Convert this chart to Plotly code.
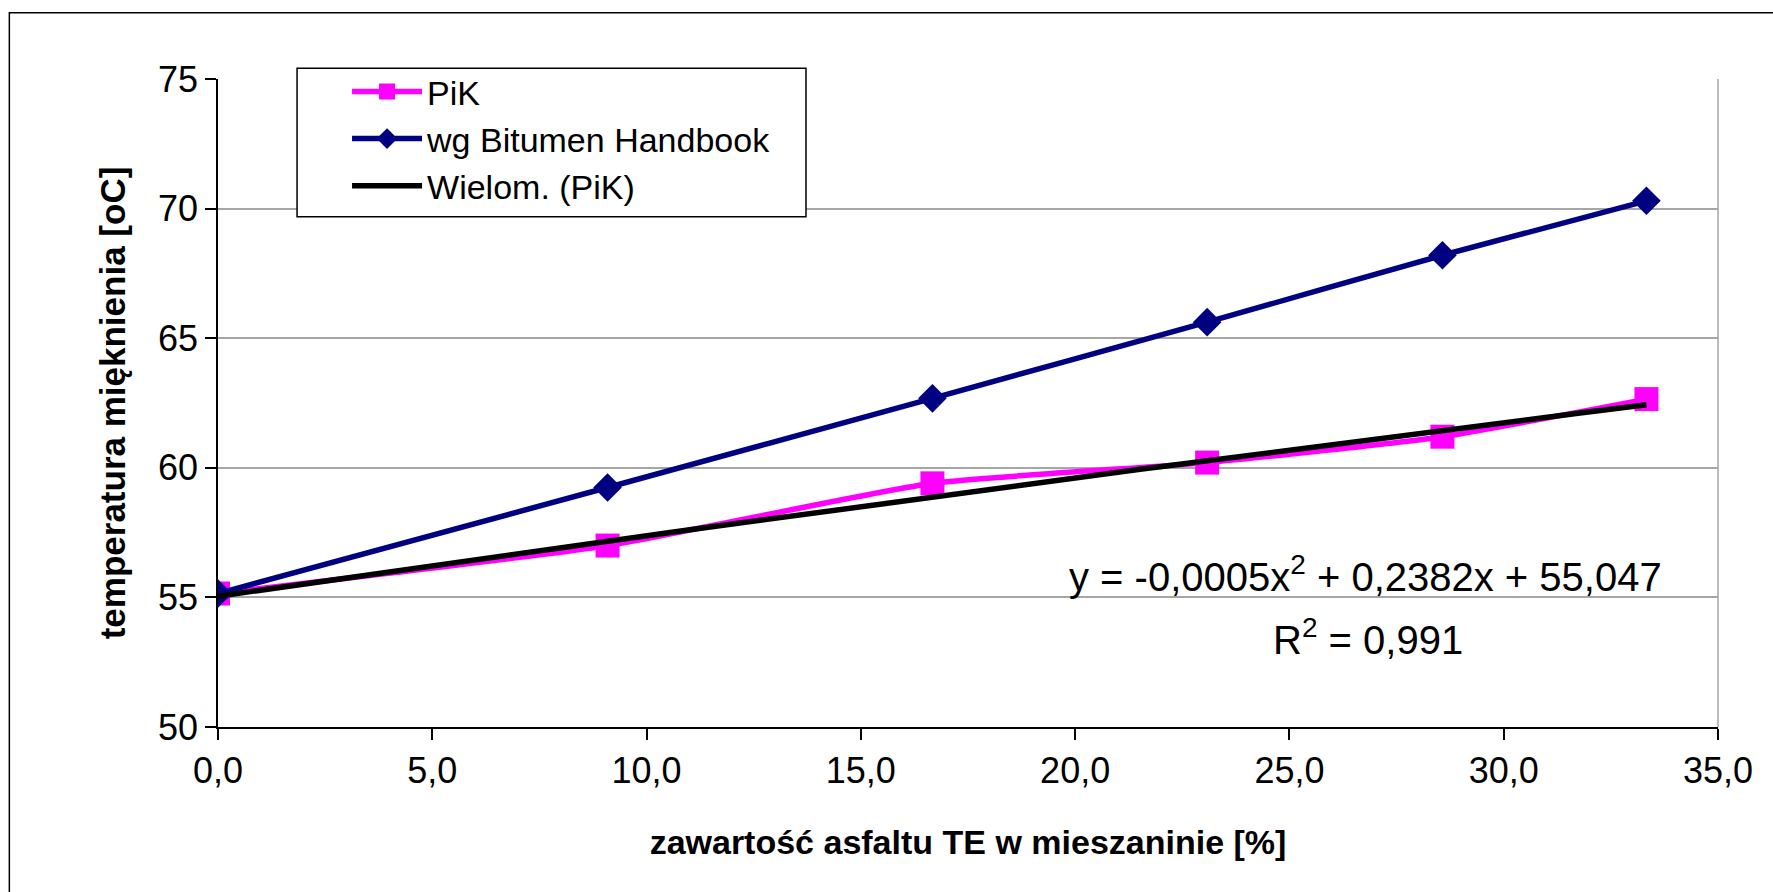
import numpy as np
import plotly.graph_objects as go

# ---- data ----
x_content = [0.0, 9.09, 16.67, 23.08, 28.57, 33.33]
pik_values = [55.15, 57.0, 59.4, 60.2, 61.2, 62.65]
bitumen_values = [55.15, 59.24, 62.68, 65.62, 68.2, 70.3]
trend_coeffs = [-0.0005, 0.2382, 55.047]   # from the printed equation
x_ticks = [0, 5, 10, 15, 20, 25, 30, 35]
y_ticks = [50, 55, 60, 65, 70, 75]

series_names = ["PiK", "wg Bitumen Handbook", "Wielom. (PiK)"]
eq_text = "y = -0,0005x<sup>2</sup> + 0,2382x + 55,047"
r2_text = "R<sup>2</sup> = 0,991"
x_title = "zawartość asfaltu TE w mieszaninie [%]"
y_title = "temperatura mięknienia [oC]"

FONT = "Liberation Sans, Arial, sans-serif"

trend_x = np.linspace(min(x_content), max(x_content), 80)
trend_y = np.polyval(trend_coeffs, trend_x)

fig = go.Figure()
fig.add_trace(go.Scatter(
    x=x_content, y=pik_values, name=series_names[0], mode="lines+markers",
    line=dict(color="#FF00FF", width=5.5, shape="spline", smoothing=0.5),
    marker=dict(symbol="square", size=24, color="#FF00FF"),
    legendgroup="a"))
fig.add_trace(go.Scatter(
    x=x_content, y=bitumen_values, name=series_names[1], mode="lines+markers",
    line=dict(color="#000080", width=5.5, shape="spline", smoothing=0.3),
    marker=dict(symbol="diamond", size=22, color="#000080"),
    legendgroup="b"))
fig.add_trace(go.Scatter(
    x=trend_x, y=trend_y, name=series_names[2], mode="lines",
    line=dict(color="#000000", width=5.5),
    legendgroup="c"))

fig.update_layout(
    width=1773, height=892,
    margin=dict(l=218, r=55, t=79, b=165),
    paper_bgcolor="white", plot_bgcolor="white",
    separators=", ",
    font=dict(family=FONT, size=34, color="black"),
    showlegend=True,
    legend=dict(
        x=0.0527, y=1.025, xanchor="left", yanchor="top",
        borderwidth=0, bgcolor="rgba(0,0,0,0)",
        font=dict(family=FONT, size=34, color="black"),
        tracegroupgap=0, itemwidth=70, indentation=50,
    ),
    xaxis=dict(
        range=[0, 35], tickvals=x_ticks, tickformat=".1f",
        showgrid=False, zeroline=False,
        showline=True, linecolor="black", linewidth=1.5,
        ticks="outside", ticklen=11, tickwidth=1.5, tickcolor="black",
        tickfont=dict(family=FONT, size=36),
        title=dict(text="<b>" + x_title + "</b>", standoff=40,
                   font=dict(family=FONT, size=34)),
    ),
    yaxis=dict(
        range=[50, 75], tickvals=y_ticks,
        showgrid=True, gridcolor="#a6a6a6", gridwidth=1.5,
        zeroline=False,
        showline=True, linecolor="black", linewidth=1.5,
        ticks="outside", ticklen=11, tickwidth=1.5, tickcolor="black",
        tickfont=dict(family=FONT, size=36),
        title=dict(text="<b>" + y_title + "</b>", standoff=22,
                   font=dict(family=FONT, size=35)),
    ),
    shapes=[
        dict(type="line", xref="paper", yref="paper", x0=1, x1=1, y0=0, y1=1,
             line=dict(color="#a6a6a6", width=1.5)),
        dict(type="rect", xref="paper", yref="paper",
             x0=-0.1391, x1=1.2, y0=-0.5, y1=1.1023,
             line=dict(color="black", width=1.5), layer="below"),
        dict(type="rect", xref="paper", yref="paper",
             x0=0.0527, x1=0.392, y0=0.7875, y1=1.0165,
             line=dict(color="black", width=1.5), fillcolor="white",
             layer="above"),
    ],
    annotations=[
        dict(text=eq_text, xref="paper", yref="paper", x=0.9637, y=0.236,
             xanchor="right", yanchor="middle", showarrow=False,
             font=dict(family=FONT, size=40)),
        dict(text=r2_text, xref="paper", yref="paper", x=0.7666, y=0.1386,
             xanchor="center", yanchor="middle", showarrow=False,
             font=dict(family=FONT, size=40)),
    ],
)

fig.write_html("out.html")
